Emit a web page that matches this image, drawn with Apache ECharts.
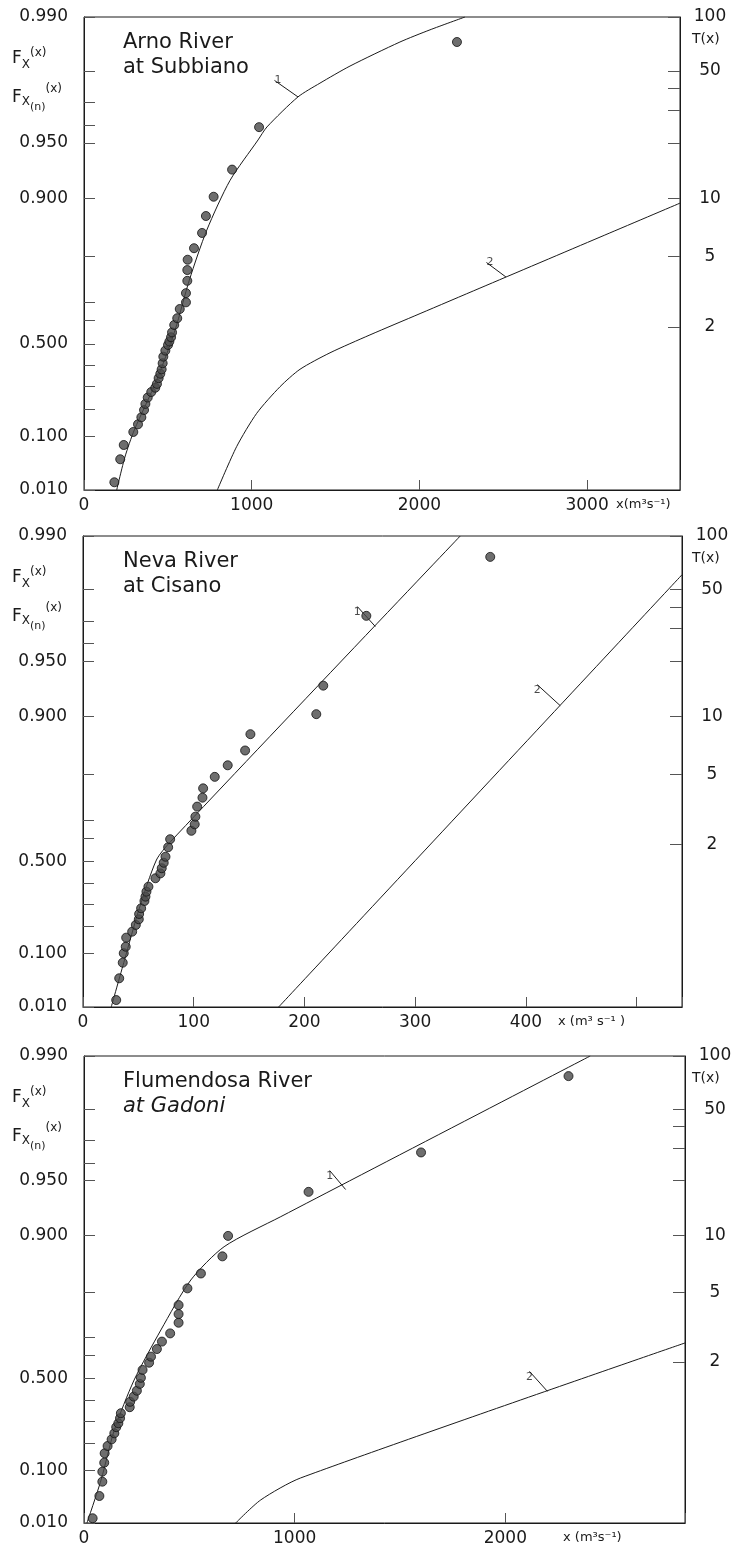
<!DOCTYPE html>
<html><head><meta charset="utf-8">
<script src="https://cdn.jsdelivr.net/npm/echarts@6/dist/echarts.min.js"></script>
<style>html,body{margin:0;padding:0;background:#fff}#c{width:738px;height:1551px}</style>
</head><body><div id="c"></div>
<script>
// ---------------- DATA ----------------
// probability (non-exceedance) tick labels on the left axis
const probLabelValues = [0.01, 0.1, 0.5, 0.9, 0.95, 0.99];
const probLabelTexts  = ['0.010', '0.100', '0.500', '0.900', '0.950', '0.990'];
const probMinorTicks  = [0.2, 0.3, 0.4, 0.6, 0.667, 0.8, 0.96, 0.97, 0.98];
// return period labels on the right axis
const returnPeriodProbs = [0.99, 0.98, 0.9, 0.8, 0.573];
const returnPeriodTexts = ['100', '50', '10', '5', '2'];
const returnPeriodMinor = [0.975, 0.967, 0.95];

// Arno River at Subbiano  [x (m3/s), F]
const arnoObserved = [[181,0.0155],[216,0.0454],[237,0.0765],[294,0.114],[322,0.140],[342,0.166],[358,0.195],[366,0.221],[380,0.249],[401,0.274],[425,0.294],[435,0.312],[445,0.339],[455,0.360],[463,0.381],[469,0.410],[473,0.441],[485,0.469],[501,0.495],[509,0.510],[519,0.529],[525,0.550],[538,0.581],[556,0.608],[571,0.643],[608,0.667],[608,0.698],[616,0.736],[616,0.766],[618,0.792],[656,0.818],[704,0.848],[727,0.876],[773,0.902],[883,0.930],[1044,0.959],[2224,0.9862]];
const arnoCurve1 = [[195,0.010],[244,0.0496],[300,0.1204],[434,0.3305],[543,0.560],[628,0.738],[732,0.853],[871,0.920],[1038,0.9518],[1091,0.9591],[1276,0.9721],[1407,0.9766],[1586,0.9812],[1884,0.9862],[2063,0.9882],[2272,0.990]];
const arnoCurve2 = [[795,0.010],[910,0.0723],[1030,0.1818],[1169,0.2988],[1288,0.3813],[1467,0.4590],[1705,0.5392],[2004,0.6259],[2361,0.7140],[3077,0.8403],[3554,0.8940]];
const arnoCurveTags = [[1276,0.9721,'1'],[2516,0.747,'2']];

// Neva River at Cisano
const nevaObserved = [[30.0,0.0149],[32.7,0.0420],[35.9,0.0752],[36.8,0.1014],[38.6,0.1222],[39.0,0.1544],[44.4,0.1776],[47.7,0.2052],[50.4,0.2297],[50.7,0.2534],[52.5,0.2794],[55.5,0.3135],[56.4,0.3342],[57.3,0.358],[59.1,0.382],[65.4,0.422],[69.9,0.445],[71.1,0.469],[72.9,0.494],[74.5,0.521],[76.9,0.562],[78.7,0.595],[97.9,0.628],[100.9,0.652],[101.5,0.679],[103.1,0.712],[107.9,0.739],[108.5,0.765],[119.0,0.794],[130.7,0.820],[146.4,0.849],[151.2,0.876],[210.7,0.903],[217,0.932],[255.9,0.972],[367.8,0.9869]];
const nevaCurve1 = [[25.5,0.010],[37.5,0.0822],[50.4,0.2717],[66.3,0.5064],[79.0,0.5849],[340.7,0.990]];
const nevaCurve2 = [[176.7,0.010],[541,0.9835]];
const nevaCurveTags = [[264,0.9679,'1'],[431,0.9127,'2']];

// Flumendosa River at Gadoni
const flumObserved = [[41,0.0132],[73,0.0395],[87,0.0687],[87,0.0955],[96,0.124],[98,0.158],[112,0.187],[131,0.215],[144,0.242],[153,0.270],[163,0.288],[171,0.312],[175,0.336],[217,0.365],[219,0.391],[236,0.416],[251,0.444],[265,0.476],[270,0.504],[278,0.539],[309,0.570],[318,0.595],[346,0.625],[370,0.653],[409,0.682],[449,0.717],[449,0.743],[449,0.768],[491,0.809],[555,0.840],[657,0.870],[684,0.899],[1066,0.942],[1600,0.965],[2300,0.987]];
const flumCurve1 = [[14,0.010],[81,0.0728],[144,0.2569],[238,0.494],[365,0.6935],[507,0.827],[665,0.8845],[934,0.9206],[2403,0.990]];
const flumCurve2 = [[720,0.010],[839,0.0333],[1028,0.078],[2853,0.648]];
const flumCurveTags = [[1242,0.9437,'1'],[2200,0.441,'2']];

// ---------------- CHART ----------------
const G = F => -Math.log(-Math.log(F));
const PMIN = G(0.01), PMAX = G(0.99);
const toG = arr => arr.map(d => [d[0], G(d[1])]);
const pickLabel = (v, probs, texts) => {
  for (let i = 0; i < probs.length; i++) if (Math.abs(G(probs[i]) - v) < 1e-6) return texts[i];
  return '';
};

const panels = [
  { grid:{left:84, top:17, width:596, height:473}, xMax:3554, xInt:1000, hide:[],
    obs:arnoObserved, c1:arnoCurve1, c2:arnoCurve2, tags:arnoCurveTags, tagShift:[[-20,-6],[-16,-4]],
    title:['Arno River','at Subbiano'], italic2:false, unit:'x(m³s⁻¹)', unitX:616 },
  { grid:{left:83, top:536, width:599, height:471}, xMax:541, xInt:100, hide:[500],
    obs:nevaObserved, c1:nevaCurve1, c2:nevaCurve2, tags:nevaCurveTags, tagShift:[[-18,-4],[-23,-5]],
    title:['Neva River','at Cisano'], italic2:false, unit:'x (m³ s⁻¹ )', unitX:558 },
  { grid:{left:84, top:1056, width:601, height:467}, xMax:2853, xInt:1000, hide:[],
    obs:flumObserved, c1:flumCurve1, c2:flumCurve2, tags:flumCurveTags, tagShift:[[-16,-3],[-18,-4]],
    title:['Flumendosa River','at Gadoni'], italic2:true, unit:'x (m³s⁻¹)', unitX:563 }
];

const FONT = 'DejaVu Sans';
const INK = '#1a1a1a';
const option = { animation:false, backgroundColor:'#fff', grid:[], xAxis:[], yAxis:[], series:[], graphic:[] };

panels.forEach((p, i) => {
  option.grid.push(Object.assign({show:true, borderColor:INK, borderWidth:1, backgroundColor:'transparent'}, p.grid));
  option.xAxis.push({
    type:'value', gridIndex:i, min:0, max:p.xMax, interval:p.xInt,
    axisLine:{show:true, onZero:false, lineStyle:{color:INK}},
    axisTick:{show:true, inside:true, length:10, lineStyle:{color:'#555'}},
    splitLine:{show:false}, showMaxLabel:false,
    axisLabel:{color:INK, fontFamily:FONT, fontSize:17, margin:7,
      formatter: v => (v % p.xInt !== 0 || p.hide.indexOf(v) >= 0) ? '' : String(v)}
  });
  option.yAxis.push({
    type:'value', gridIndex:i, min:PMIN, max:PMAX, position:'left',
    axisLine:{show:true, lineStyle:{color:INK}},
    splitLine:{show:false},
    axisTick:{show:true, inside:true, length:11, lineStyle:{color:'#555'},
      customValues: probLabelValues.concat(probMinorTicks).map(G)},
    axisLabel:{color:INK, fontFamily:FONT, fontSize:17, margin:16,
      customValues: probLabelValues.map(G),
      formatter: v => pickLabel(v, probLabelValues, probLabelTexts)}
  });
  option.yAxis.push({
    type:'value', gridIndex:i, min:PMIN, max:PMAX, position:'right',
    axisLine:{show:true, lineStyle:{color:INK}},
    splitLine:{show:false},
    axisTick:{show:true, inside:true, length:12, lineStyle:{color:'#555'},
      customValues: returnPeriodProbs.concat(returnPeriodMinor).map(G)},
    axisLabel:{color:INK, fontFamily:FONT, fontSize:17, margin:30, align:'center',
      customValues: returnPeriodProbs.map(G),
      formatter: v => pickLabel(v, returnPeriodProbs, returnPeriodTexts)}
  });
  const xi = i, yi = 2*i;
  [p.c1, p.c2].forEach((c, k) => option.series.push({
    type:'line', xAxisIndex:xi, yAxisIndex:yi, data:toG(c), showSymbol:false,
    smooth:0.25, lineStyle:{color:INK, width:1}, silent:true, clip:true, z:2
  }));
  option.series.push({
    type:'scatter', xAxisIndex:xi, yAxisIndex:yi, data:toG(p.obs), symbolSize:9,
    itemStyle:{color:'#4a4a4a', borderColor:'#111', borderWidth:1}, z:3
  });
  p.tags.forEach((t, k) => option.series.push({
    type:'scatter', xAxisIndex:xi, yAxisIndex:yi, symbolSize:0, silent:true,
    data: [{value:[t[0], G(t[1])], name:t[2]}],
    label:{show:true, formatter:'{b}', fontFamily:FONT, fontSize:11, color:INK, position:'top'},
    labelLayout:{dx:p.tagShift[k][0], dy:p.tagShift[k][1]},
    labelLine:{show:true, lineStyle:{color:INK, width:1}}
  }));
  const top = p.grid.top;
  option.graphic.push({type:'text', left:123, top:top+15, style:{text:p.title[0], font:'21px "'+FONT+'"', fill:INK}});
  option.graphic.push({type:'text', left:123, top:top+40, style:{text:p.title[1], font:(p.italic2 ? 'italic ' : '')+'21px "'+FONT+'"', fill:INK}});
  option.graphic.push({type:'text', left:12, top:top+30, style:{
    text:'{f|F}{s|X}{p|(x)}', rich:{f:{fontSize:17, fontFamily:FONT, verticalAlign:'middle', lineHeight:24},
      s:{fontSize:12, fontFamily:FONT, verticalAlign:'bottom', lineHeight:24},
      p:{fontSize:12, fontFamily:FONT, verticalAlign:'top', lineHeight:24}}, fill:INK}});
  option.graphic.push({type:'text', left:12, top:top+66, style:{
    text:'{f|F}{s|X}{n|(n)}{p|(x)}', rich:{f:{fontSize:17, fontFamily:FONT, verticalAlign:'middle', lineHeight:30},
      s:{fontSize:12, fontFamily:FONT, verticalAlign:'middle', lineHeight:30, padding:[8,0,0,0]},
      n:{fontSize:11, fontFamily:FONT, verticalAlign:'bottom', lineHeight:30},
      p:{fontSize:12, fontFamily:FONT, verticalAlign:'top', lineHeight:30}}, fill:INK}});
  option.graphic.push({type:'text', left:692, top:top+15, style:{text:'T(x)', font:'14px "'+FONT+'"', fill:INK}});
  option.graphic.push({type:'text', left:p.unitX, top:top+p.grid.height+8, style:{text:p.unit, font:'13px "'+FONT+'"', fill:INK}});
});

const chart = echarts.init(document.getElementById('c'), null, {renderer:'canvas'});
chart.setOption(option);
</script></body></html>
